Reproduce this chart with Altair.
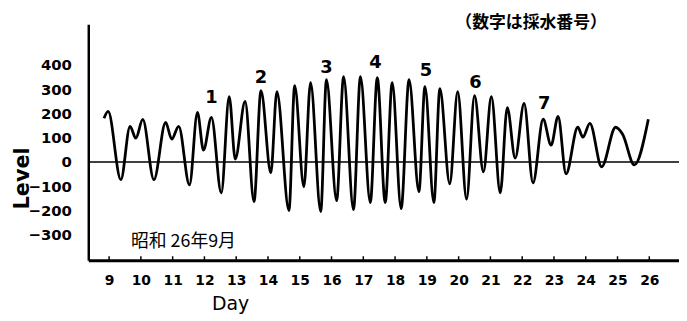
import altair as alt
import pandas as pd

# ---- data ----
days = [8.84, 8.97, 9.37, 9.66, 9.84, 10.06, 10.41, 10.78, 10.97, 11.19, 11.53,
        11.78, 11.97, 12.22, 12.53, 12.78, 12.97, 13.28, 13.56, 13.78, 14.09,
        14.28, 14.66, 14.84, 15.13, 15.34, 15.66, 15.84, 16.16, 16.38, 16.69,
        16.91, 17.22, 17.44, 17.69, 17.91, 18.19, 18.44, 18.75, 18.94, 19.22,
        19.41, 19.72, 19.97, 20.25, 20.5, 20.78, 21.03, 21.31, 21.53, 21.78,
        22.06, 22.34, 22.66, 22.91, 23.13, 23.38, 23.75, 23.91, 24.13, 24.5,
        24.94, 25.16, 25.53, 25.97]
levels = [180, 208, -73, 147, 98, 175, -73, 163, 94, 147, -94,
          204, 49, 184, -127, 269, 12, 249, -163, 294, -45,
          290, -200, 314, -102, 327, -204, 339, -159, 351, -196,
          351, -167, 347, -167, 327, -192, 339, -122, 310, -167,
          302, -90, 290, -153, 273, -41, 269, -127, 224, 16,
          241, -86, 176, 69, 188, -49, 143, 102, 159, -20,
          143, 114, -12, 176]

tick_days = list(range(9, 27))
y_ticks = [400, 300, 200, 100, 0, -100, -200, -300]

sample_labels = ["1", "2", "3", "4", "5", "6", "7"]
sample_days = [12.22, 13.78, 15.84, 17.38, 18.97, 20.53, 22.69]
sample_levels = [265, 347, 388, 408, 376, 327, 240]

note_texts = ["昭和 26年9月", "（数字は採水番号）"]
note_days = [11.34, 22.28]
note_levels = [-329, 570]

X_DOM = [8.345, 26.935]
Y_DOM = [-404, 567]
W, H = 596, 238

curve_df = pd.DataFrame({"day": days, "level": levels})
tick_df = pd.DataFrame({"day": tick_days, "level": [Y_DOM[0]] * len(tick_days),
                        "top": [Y_DOM[0] + 16] * len(tick_days)})
zero_df = pd.DataFrame({"day": [X_DOM[0]], "end": [X_DOM[1]], "level": [0]})
lab_df = pd.DataFrame({"label": sample_labels, "day": sample_days, "level": sample_levels})
note_df = pd.DataFrame({"label": note_texts, "day": note_days, "level": note_levels,
                        "w": ["normal", "bold"]})

xs = alt.Scale(domain=X_DOM, nice=False, zero=False)
ys = alt.Scale(domain=Y_DOM, nice=False, zero=False)

x_axis = alt.Axis(
    values=tick_days, tickSize=0, domainWidth=3, domainColor="black",
    labelFontSize=14, labelFontWeight="bold", labelColor="black",
    labelFont="DejaVu Sans", labelPadding=14, grid=False,
    title="Day", titleFont="DejaVu Sans", titleFontSize=19,
    titleFontWeight="normal", titleColor="black",
    titleX=143, titleY=44, titleAlign="center", titleBaseline="middle")
y_axis = alt.Axis(
    values=y_ticks, tickSize=0, domainWidth=2.5, domainColor="black",
    labelFontSize=15, labelFontWeight="bold", labelColor="black",
    labelFont="DejaVu Sans", labelPadding=17, grid=False,
    title="Level", titleFont="DejaVu Sans", titleFontSize=21,
    titleFontWeight="bold", titleColor="black", titleAngle=270,
    titleX=-66, titleY=155, titleAlign="center", titleBaseline="middle")

X = alt.X("day:Q", scale=xs, axis=x_axis, title="Day")
Y = alt.Y("level:Q", scale=ys, axis=y_axis, title="Level")

curve = alt.Chart(curve_df).mark_line(
    interpolate="monotone", color="black", strokeWidth=2.8, clip=False
).encode(x=X, y=Y)

zero = alt.Chart(zero_df).mark_rule(color="black", strokeWidth=1.4).encode(
    x=X, x2="end:Q", y=Y)

ticks = alt.Chart(tick_df).mark_rule(color="black", strokeWidth=1.5).encode(
    x=X, y=Y, y2="top:Q")

labels = alt.Chart(lab_df).mark_text(
    font="DejaVu Sans", fontSize=18, fontWeight="bold", color="black",
    baseline="middle", align="center"
).encode(x=X, y=Y, text="label:N")

note_small = alt.Chart(note_df.iloc[[0]]).mark_text(
    font="Noto Sans CJK JP", fontSize=18, fontWeight="normal", color="black",
    baseline="middle", align="center", clip=False
).encode(x=X, y=Y, text="label:N")

note_top = alt.Chart(note_df.iloc[[1]]).mark_text(
    font="Noto Sans CJK JP", fontSize=17, fontWeight="bold", color="black",
    baseline="middle", align="center", clip=False
).encode(x=X, y=Y, text="label:N")

chart = alt.layer(curve, zero, ticks, labels, note_small, note_top).properties(
    width=W, height=H,
    autosize=alt.AutoSizeParams(type="none"),
    padding={"left": 81, "top": 15, "right": 0, "bottom": 60},
    background="white",
).configure_view(stroke=None)

chart.save("out.html", embed_options={"renderer": "svg", "actions": False})
